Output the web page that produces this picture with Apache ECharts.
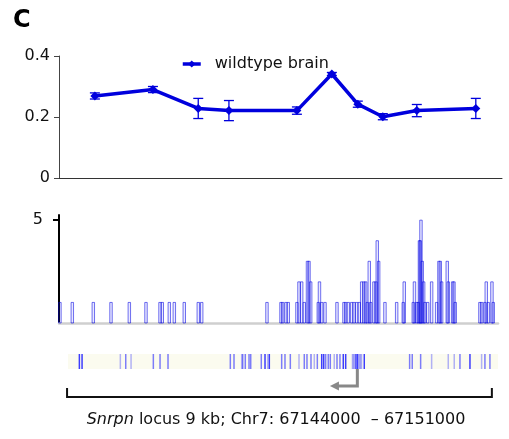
<!DOCTYPE html>
<html>
<head>
<meta charset="utf-8">
<script src="https://cdn.jsdelivr.net/npm/echarts@6/dist/echarts.min.js"></script>
<style>
  html, body { margin: 0; padding: 0; background: #fff; }
  #chart { width: 509px; height: 439px; }
</style>
</head>
<body>
<div id="chart"></div>
<script>
// positions are bp from the start of the 9 kb locus
const cpgPos   = [590, 1820, 2780, 3430, 4870, 5610, 6160, 6690, 7410, 8660];
const meanMeth = [0.269, 0.290, 0.228, 0.221, 0.221, 0.341, 0.242, 0.201, 0.221, 0.228];
const errMeth  = [0.010, 0.010, 0.033, 0.033, 0.012, 0.005, 0.010, 0.010, 0.020, 0.033];

// read density track (outlined bars)
const readPos = [-150, 112, 557, 932, 1320, 1673, 1970, 2018, 2167, 2273, 2484, 2781, 2853,
  4236, 4533, 4568, 4638, 4687, 4871, 4914, 4971, 5026, 5094, 5126, 5162, 5323, 5348, 5395, 5465,
  5719, 5867, 5903, 5958, 6030, 6079, 6136, 6191, 6242, 6290, 6327, 6361, 6403, 6433, 6502, 6545,
  6572, 6602, 6735, 6983, 7123, 7144, 7335, 7360, 7407, 7441, 7466, 7483, 7498, 7525, 7555, 7582,
  7640, 7724, 7830, 7879, 7907, 7936, 8055, 8076, 8169, 8197, 8224, 8747, 8783, 8853, 8881, 8923,
  9002, 9029];
const readHeight = [1, 1, 1, 1, 1, 1, 1, 1, 1, 1, 1, 1, 1,
  1, 1, 1, 1, 1, 1, 2, 2, 1, 3, 3, 2, 1, 2, 1, 1,
  1, 1, 1, 1, 1, 1, 1, 1, 2, 2, 2, 1, 3, 1, 2, 2,
  4, 3, 1, 1, 1, 2, 1, 2, 1, 1, 4, 4, 5, 3, 2, 1,
  1, 2, 1, 3, 3, 2, 3, 2, 2, 2, 1, 1, 1, 1, 2, 1,
  2, 1];

// CpG strip (1 light, 2 medium, 3 dark)
const stripPos = [261, 318, 1129, 1243, 1356, 1828, 1970, 2139, 3459, 3537, 3700, 3721, 3776,
  3855, 3891, 4115, 4194, 4251, 4285, 4547, 4617, 4730, 4914, 5026, 5083, 5168, 5238, 5302,
  5395, 5437, 5479, 5534, 5577, 5661, 5719, 5782, 5852, 5903, 6047, 6068, 6089, 6121, 6157,
  6195, 6215, 6238, 6297, 7258, 7313, 7491, 7724, 8076, 8203, 8324, 8536, 8783, 8853, 8959];
const stripLevel = [3, 3, 1, 2, 1, 2, 2, 2, 2, 2, 1, 2, 2,
  2, 2, 2, 3, 1, 3, 2, 2, 2, 1, 2, 2, 2, 1, 2,
  3, 3, 2, 2, 2, 1, 2, 2, 3, 3, 1, 1, 1, 3, 3,
  1, 1, 1, 3, 2, 2, 2, 1, 1, 1, 2, 3, 1, 2, 2];

const tssPos = 6150;
const arrowEnd = 5570;
const locusStart = 0, locusEnd = 9000;

const blue = '#0000dd';
const font = 'DejaVu Sans';

const chart = echarts.init(document.getElementById('chart'));

const option = {
  animation: false,
  backgroundColor: '#fff',
  textStyle: { fontFamily: font },
  legend: {
    data: ['wildtype brain'],
    left: 176, top: 51,
    itemWidth: 18, itemHeight: 9,
    lineStyle: { width: 3.5 },
    textStyle: { fontSize: 16, color: '#111', fontFamily: font, padding: [0, 0, 0, 9] }
  },
  grid: [
    { left: 59, right: 7, top: 56, height: 122 },
    { left: 59, right: 11, top: 215, height: 108 },
    { left: 68, right: 11, top: 354, height: 15, show: true, backgroundColor: '#fbfbef', borderWidth: 0 }
  ],
  xAxis: [
    { gridIndex: 0, type: 'value', min: -170, max: 9215,
      axisLine: { onZero: false, lineStyle: { color: '#333', width: 1 } },
      axisTick: { show: false }, axisLabel: { show: false }, splitLine: { show: false } },
    { gridIndex: 1, type: 'value', min: -170, max: 9130,
      axisLine: { onZero: false, lineStyle: { color: '#cfcfcf', width: 2.5 } },
      axisTick: { show: false }, axisLabel: { show: false }, splitLine: { show: false } },
    { gridIndex: 2, type: 'value', min: 20, max: 9130, show: false }
  ],
  yAxis: [
    { gridIndex: 0, type: 'value', min: 0, max: 0.4, interval: 0.2,
      axisLine: { show: true, onZero: false, lineStyle: { color: '#444', width: 1 } },
      axisTick: { show: true, length: 5, lineStyle: { color: '#444' } },
      axisLabel: { fontSize: 16, color: '#111', margin: 9, fontFamily: font,
        formatter: v => v === 0 ? '0' : v.toFixed(1) },
      splitLine: { show: false } },
    { gridIndex: 1, type: 'value', min: 0, max: 5.25,
      axisLine: { show: true, onZero: false, lineStyle: { color: '#000', width: 2 } },
      axisTick: { show: true, length: 6, customValues: [5], lineStyle: { color: '#000', width: 2 } },
      axisLabel: { fontSize: 16, color: '#111', margin: 16, fontFamily: font, customValues: [5] },
      splitLine: { show: false } },
    { gridIndex: 2, type: 'value', min: 0, max: 1, show: false }
  ],
  series: [
    {
      name: 'wildtype brain',
      type: 'line',
      xAxisIndex: 0, yAxisIndex: 0,
      data: cpgPos.map((p, i) => [p, meanMeth[i]]),
      lineStyle: { color: blue, width: 3.5 },
      itemStyle: { color: blue },
      symbol: 'diamond', symbolSize: 9,
      z: 3
    },
    {
      type: 'custom',
      xAxisIndex: 0, yAxisIndex: 0,
      data: cpgPos.map((p, i) => [p, meanMeth[i] - errMeth[i], meanMeth[i] + errMeth[i]]),
      renderItem: (params, api) => {
        const lo = api.coord([api.value(0), api.value(1)]);
        const hi = api.coord([api.value(0), api.value(2)]);
        const hw = 5;
        const st = { stroke: blue, lineWidth: 1.3 };
        return { type: 'group', children: [
          { type: 'line', shape: { x1: hi[0], y1: hi[1], x2: lo[0], y2: lo[1] }, style: st },
          { type: 'line', shape: { x1: hi[0] - hw, y1: hi[1], x2: hi[0] + hw, y2: hi[1] }, style: st },
          { type: 'line', shape: { x1: lo[0] - hw, y1: lo[1], x2: lo[0] + hw, y2: lo[1] }, style: st }
        ] };
      },
      z: 4
    },
    {
      type: 'custom',
      xAxisIndex: 1, yAxisIndex: 1,
      data: readPos.map((p, i) => [p, readHeight[i]]),
      renderItem: (params, api) => {
        const a = api.coord([api.value(0) - 26, api.value(1)]);
        const b = api.coord([api.value(0) + 26, 0]);
        return { type: 'rect',
          shape: { x: a[0], y: a[1], width: b[0] - a[0], height: b[1] - a[1] },
          style: { fill: 'rgba(70,70,255,0.12)', stroke: 'rgba(0,0,225,0.55)', lineWidth: 1 } };
      }
    },
    {
      type: 'custom',
      xAxisIndex: 2, yAxisIndex: 2,
      data: stripPos.map((p, i) => [p, stripLevel[i]]),
      renderItem: (params, api) => {
        const a = api.coord([api.value(0), 1]);
        const b = api.coord([api.value(0), 0]);
        const alpha = [0, 0.35, 0.6, 0.9][api.value(1)];
        return { type: 'rect',
          shape: { x: a[0] - 0.75, y: a[1], width: 1.5, height: b[1] - a[1] },
          style: { fill: 'rgba(40,40,255,' + alpha + ')' } };
      }
    }
  ]
};

chart.setOption(option);

// annotations placed from the locus coordinates
const tss = chart.convertToPixel({ xAxisIndex: 2, yAxisIndex: 2 }, [tssPos, 0]);
const arr = chart.convertToPixel({ xAxisIndex: 2, yAxisIndex: 2 }, [arrowEnd, 0]);
const ls = chart.convertToPixel({ xAxisIndex: 2, yAxisIndex: 2 }, [locusStart, 0]);
const le = chart.convertToPixel({ xAxisIndex: 2, yAxisIndex: 2 }, [locusEnd, 0]);
const arrowY = 386, bracketY = 397;

chart.setOption({
  graphic: [
    { type: 'text', left: 13, top: 9,
      style: { text: 'C', font: 'bold 24px "DejaVu Sans"', fill: '#000' } },
    { type: 'polyline',
      shape: { points: [[tss[0], tss[1]], [tss[0], arrowY], [arr[0] + 6, arrowY]] },
      style: { stroke: '#888', lineWidth: 3, fill: null } },
    { type: 'polygon',
      shape: { points: [[arr[0], arrowY], [arr[0] + 9, arrowY - 4.5], [arr[0] + 9, arrowY + 4.5]] },
      style: { fill: '#888' } },
    { type: 'polyline',
      shape: { points: [[ls[0], bracketY - 9], [ls[0], bracketY], [le[0], bracketY], [le[0], bracketY - 9]] },
      style: { stroke: '#111', lineWidth: 2, fill: null } },
    { type: 'text', x: 276, y: 420,
      style: {
        text: '{i|Snrpn} locus 9 kb; Chr7: 67144000  \u2013 67151000',
        font: '16px "DejaVu Sans"', fill: '#111',
        align: 'center', verticalAlign: 'middle',
        rich: { i: { fontStyle: 'italic', fontSize: 16, fontFamily: font, fill: '#111' } }
      } }
  ]
});
</script>
</body>
</html>
